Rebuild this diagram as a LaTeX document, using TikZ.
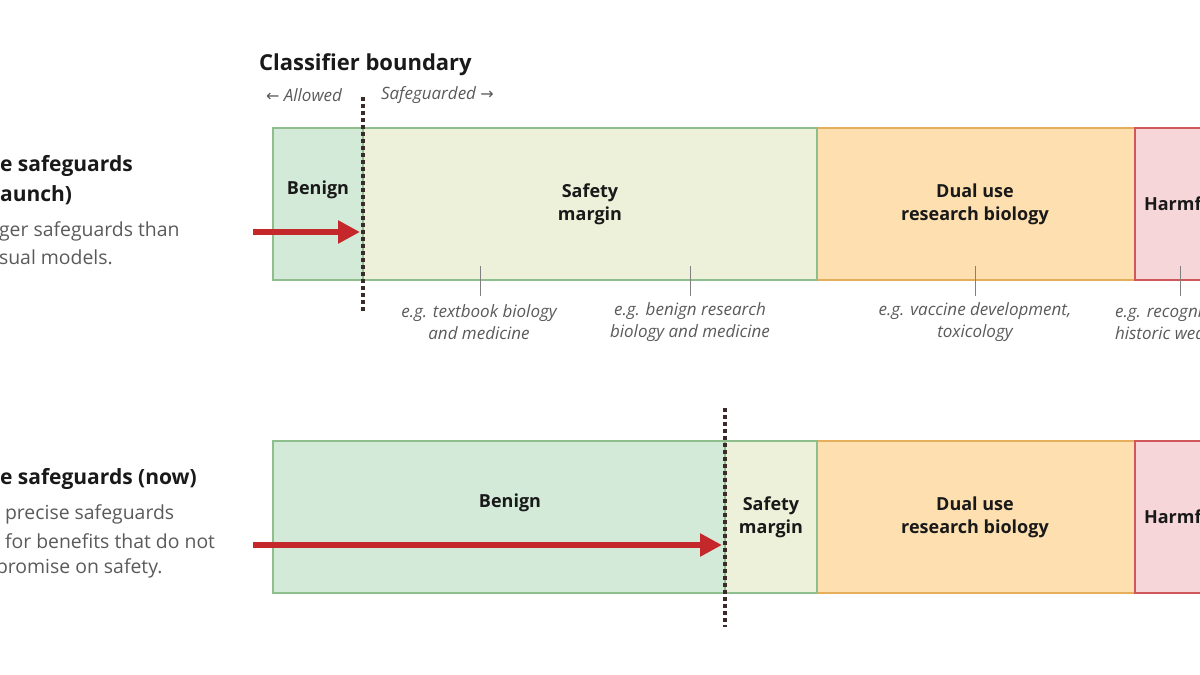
\documentclass[tikz,border=0pt]{standalone}
\usepackage{fontspec}
\setmainfont{Open Sans}
\newfontfamily\arrowfont{DejaVu Sans}
\usetikzlibrary{arrows.meta}

\definecolor{benignfill}{HTML}{D4EAD9}
\definecolor{benigndraw}{HTML}{8DBE8C}
\definecolor{marginfill}{HTML}{EEF1DA}
\definecolor{dualfill}{HTML}{FDDFB0}
\definecolor{dualdraw}{HTML}{E5AE5A}
\definecolor{harmfill}{HTML}{F7D6DA}
\definecolor{harmdraw}{HTML}{D0585C}
\definecolor{boundcol}{HTML}{3B2B2B}
\definecolor{arrowred}{HTML}{C4282B}
\definecolor{bodygray}{HTML}{5A5A5A}

\begin{document}
\begin{tikzpicture}[x=0.5pt,y=-0.5pt,
        zone/.style={line width=0.75pt},
        label/.style={font=\fontsize{9}{11.5}\selectfont\bfseries, text=black!90, align=center},
        example/.style={font=\fontsize{8.5}{11}\selectfont\itshape, text=bodygray, align=center},
        title/.style={font=\fontsize{10.5}{14}\selectfont\bfseries, text=black!90, anchor=west},
        body/.style={font=\fontsize{9.7}{13}\selectfont, text=bodygray, anchor=west},
        boundary/.style={boundcol, line width=1.6pt, dash pattern=on 2pt off 1.5pt},
        push/.style={arrowred, line width=2.8pt, -{Triangle[length=11pt,width=11pt]}},
        tick/.style={gray, line width=0.5pt}]

    \useasboundingbox (0,0) rectangle (1200,675);
    \clip (0,0) rectangle (1200,675);

    % heading
    \node[title] (head) at (252,65) {\fontsize{11}{14}\selectfont Classifier boundary};
    \node[example, anchor=west] (allowed) at (259,95) {{\arrowfont\upshape\fontsize{8}{9}\selectfont ←} Allowed};
    \node[example, anchor=west] (guarded) at (374,95) {Safeguarded {\arrowfont\upshape\fontsize{8}{9}\selectfont →}};

    % row 1 (launch)
    \draw[zone, fill=dualfill, draw=dualdraw] (817,128) rectangle (1135,280);
    \draw[zone, fill=harmfill, draw=harmdraw] (1135,128) rectangle (1230,280);
    \draw[zone, fill=marginfill, draw=benigndraw] (363,128) rectangle (817,280);
    \draw[zone, fill=benignfill, draw=benigndraw] (273,128) rectangle (363,280);

    \node[label] (benignA) at (318,190) {Benign};
    \node[label] (marginA) at (590,204) {Safety\\margin};
    \node[label] (dualA)   at (975,204) {Dual use\\research biology};
    \node[label, anchor=west] (harmA) at (1137,204) {Harmf};

    \node[title] (launchA) at (-7,166) {e safeguards};
    \node[title] (launchB) at (-7,195) {aunch)};
    \node[body] (launchC) at (-8,231) {ger safeguards than};
    \node[body] (launchD) at (-8,257) {sual models.};

    \coordinate (tipA) at (360,232);
    \coordinate (tailA) at (253,232);
    \draw[push] (tailA) -- (tipA);
    \draw[boundary] (363,97) -- (363,313);

    % examples
    \node[example] (exA) at (479,322) {e.g. textbook biology\\and medicine};
    \node[example] (exB) at (690,322) {e.g. benign research\\biology and medicine};
    \node[example] (exC) at (975,322) {e.g. vaccine development,\\toxicology};
    \node[example, anchor=west, align=left] (exD) at (1108,322) {e.g. recogni\\historic wea};
    \foreach \x/\ex in {480/exA, 690/exB, 975/exC, 1180/exD}
        \draw[tick] (\x,266) -- (\x,296);

    % row 2 (now)
    \draw[zone, fill=dualfill, draw=dualdraw] (817,441) rectangle (1135,593);
    \draw[zone, fill=harmfill, draw=harmdraw] (1135,441) rectangle (1230,593);
    \draw[zone, fill=marginfill, draw=benigndraw] (725,441) rectangle (817,593);
    \draw[zone, fill=benignfill, draw=benigndraw] (273,441) rectangle (725,593);

    \node[label] (benignB) at (510,503) {Benign};
    \node[label] (marginB) at (771,517) {Safety\\margin};
    \node[label] (dualB)   at (975,517) {Dual use\\research biology};
    \node[label, anchor=west] (harmB) at (1137,517) {Harmf};

    \node[title] (nowA) at (-7,479) {e safeguards (now)};
    \node[body] (nowB) at (-2,514) {precise safeguards};
    \node[body] (nowC) at (-2,541) {for benefits that do not};
    \node[body] (nowD) at (-11,568) {promise on safety.};

    \coordinate (tipB) at (722,545);
    \coordinate (tailB) at (253,545);
    \draw[push] (tailB) -- (tipB);
    \draw[boundary] (725,408) -- (725,627);

\end{tikzpicture}
\end{document}
